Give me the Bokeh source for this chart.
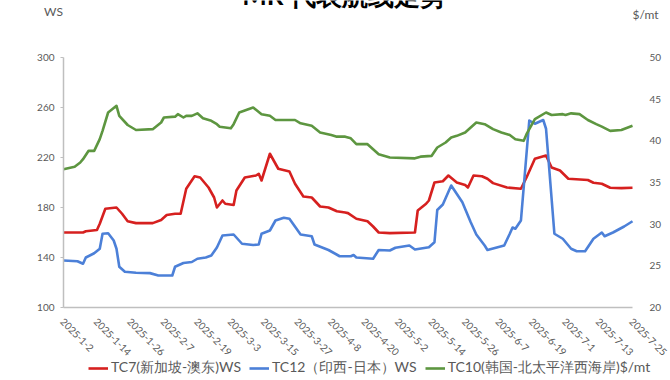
import math
import pandas as pd
from bokeh.plotting import figure
from bokeh.models import Range1d, LinearAxis, FixedTicker, Legend, LegendItem, Label
from bokeh.core.properties import value
from bokeh.embed import file_html
from bokeh.resources import INLINE

# ---------------- data ----------------
tc7_dates = ["2025-01-02", "2025-01-09", "2025-01-10", "2025-01-14", "2025-01-15", "2025-01-17",
             "2025-01-21", "2025-01-23", "2025-01-25", "2025-01-28", "2025-02-03", "2025-02-06",
             "2025-02-08", "2025-02-11", "2025-02-13", "2025-02-15", "2025-02-18", "2025-02-20",
             "2025-02-23", "2025-02-25", "2025-02-26", "2025-02-28", "2025-03-01", "2025-03-04",
             "2025-03-05", "2025-03-08", "2025-03-12", "2025-03-13", "2025-03-14", "2025-03-17",
             "2025-03-20", "2025-03-24", "2025-03-26", "2025-03-29", "2025-04-01", "2025-04-04",
             "2025-04-07", "2025-04-10", "2025-04-13", "2025-04-14", "2025-04-17", "2025-04-21",
             "2025-04-23", "2025-04-25", "2025-04-29", "2025-05-08", "2025-05-09", "2025-05-12",
             "2025-05-13", "2025-05-15", "2025-05-18", "2025-05-20", "2025-05-23", "2025-05-26",
             "2025-05-27", "2025-05-29", "2025-06-01", "2025-06-03", "2025-06-05", "2025-06-10",
             "2025-06-15", "2025-06-17", "2025-06-20", "2025-06-24", "2025-06-26", "2025-06-29",
             "2025-07-02", "2025-07-09", "2025-07-11", "2025-07-14", "2025-07-17", "2025-07-21",
             "2025-07-25"]
tc7_ws = [160, 160, 161, 162, 167, 179,
          180, 175, 169, 167.5, 167.5, 170,
          174, 175, 175, 195, 205, 204,
          196, 188, 180, 185.6, 183, 182,
          193.6, 204, 205.6, 207, 201.6, 223,
          211, 208.8, 199, 188.8, 188, 180.8,
          180, 177, 176, 175.5, 171, 169,
          164.8, 160, 159.5, 160, 177.6, 183,
          185.6, 200, 201, 205.6, 200, 198,
          196, 205.6, 205, 203, 199.5, 196,
          195, 204, 219, 221.6, 212, 209.6,
          203, 202, 199.8, 199, 195.8, 195.5,
          195.8]

tc12_dates = ["2025-01-02", "2025-01-07", "2025-01-09", "2025-01-10", "2025-01-13", "2025-01-15",
              "2025-01-16", "2025-01-18", "2025-01-20", "2025-01-21", "2025-01-22", "2025-01-24",
              "2025-01-28", "2025-02-02", "2025-02-05", "2025-02-10", "2025-02-11", "2025-02-14",
              "2025-02-17", "2025-02-19", "2025-02-22", "2025-02-24", "2025-02-26", "2025-02-28",
              "2025-03-04", "2025-03-07", "2025-03-11", "2025-03-13", "2025-03-14", "2025-03-17",
              "2025-03-19", "2025-03-22", "2025-03-24", "2025-03-28", "2025-04-01", "2025-04-02",
              "2025-04-07", "2025-04-11", "2025-04-15", "2025-04-16", "2025-04-17", "2025-04-23",
              "2025-04-25", "2025-04-29", "2025-05-01", "2025-05-06", "2025-05-08", "2025-05-13",
              "2025-05-15", "2025-05-16", "2025-05-18", "2025-05-21", "2025-05-25", "2025-05-28",
              "2025-05-30", "2025-06-02", "2025-06-03", "2025-06-06", "2025-06-09", "2025-06-11",
              "2025-06-12", "2025-06-13", "2025-06-15", "2025-06-18", "2025-06-20", "2025-06-23",
              "2025-06-24", "2025-06-27", "2025-06-30", "2025-07-03", "2025-07-05", "2025-07-08",
              "2025-07-11", "2025-07-14", "2025-07-15", "2025-07-18", "2025-07-22", "2025-07-25"]
tc12_ws = [137.6, 137, 135, 140, 143.4, 147,
           159, 159.4, 153.6, 147, 132.6, 128.6,
           127.8, 127.5, 125.6, 125.6, 132.6, 135.6,
           136.4, 139, 140, 141.6, 148, 157.6,
           158.4, 151, 150, 150.4, 159, 161.6,
           169.6, 171.8, 171, 158.4, 157, 150.4,
           146, 141, 141, 142, 140, 139,
           146, 145.6, 147.8, 149.6, 146.4, 148.2,
           152.2, 178, 182.4, 197.6, 184.2, 168.2,
           158.4, 149.6, 146, 147.8, 149.6, 159,
           164, 163, 169.6, 249.6, 247, 250,
           243, 159, 155, 147, 145, 145,
           155, 160, 157, 160, 164.8, 169]

tc10_dates = ["2025-01-02", "2025-01-06", "2025-01-08", "2025-01-09", "2025-01-11", "2025-01-13",
              "2025-01-15", "2025-01-16", "2025-01-18", "2025-01-21", "2025-01-22", "2025-01-25",
              "2025-01-28", "2025-02-03", "2025-02-06", "2025-02-07", "2025-02-11", "2025-02-12",
              "2025-02-14", "2025-02-15", "2025-02-17", "2025-02-19", "2025-02-21", "2025-02-24",
              "2025-02-26", "2025-02-27", "2025-03-03", "2025-03-04", "2025-03-06", "2025-03-11",
              "2025-03-14", "2025-03-17", "2025-03-19", "2025-03-26", "2025-03-28", "2025-04-01",
              "2025-04-04", "2025-04-08", "2025-04-10", "2025-04-13", "2025-04-15", "2025-04-17",
              "2025-04-21", "2025-04-23", "2025-04-25", "2025-04-29", "2025-05-08", "2025-05-10",
              "2025-05-14", "2025-05-16", "2025-05-19", "2025-05-21", "2025-05-23", "2025-05-26",
              "2025-05-30", "2025-06-02", "2025-06-05", "2025-06-08", "2025-06-11", "2025-06-13",
              "2025-06-16", "2025-06-17", "2025-06-20", "2025-06-24", "2025-06-26", "2025-06-30",
              "2025-07-01", "2025-07-03", "2025-07-06", "2025-07-09", "2025-07-12", "2025-07-14",
              "2025-07-17", "2025-07-21", "2025-07-25"]
tc10_usd = [36.6, 36.9, 37.4, 37.8, 38.8, 38.8,
            40.2, 41.2, 43.4, 44.2, 43.0, 41.9,
            41.3, 41.4, 42.2, 42.8, 42.9, 43.2,
            42.8, 43.0, 43.0, 43.3, 42.7, 42.4,
            42.0, 41.7, 41.5, 42.0, 43.4, 44.0,
            43.2, 43.0, 42.5, 42.5, 42.1, 41.8,
            41.0, 40.7, 40.5, 40.5, 40.3, 39.6,
            39.6, 39.0, 38.4, 38.0, 37.9, 38.1,
            38.2, 39.2, 39.8, 40.4, 40.6, 41.0,
            42.2, 42.0, 41.4, 41.0, 40.7, 40.2,
            40.0, 40.8, 42.6, 43.4, 43.1, 43.2,
            43.1, 43.3, 43.2, 42.5, 42.0, 41.7,
            41.2, 41.3, 41.8]

x_tick_labels = ["2025-1-2", "2025-1-14", "2025-1-26", "2025-2-7", "2025-2-19", "2025-3-3",
                 "2025-3-15", "2025-3-27", "2025-4-8", "2025-4-20", "2025-5-2", "2025-5-14",
                 "2025-5-26", "2025-6-7", "2025-6-19", "2025-7-1", "2025-7-13", "2025-7-25"]
left_ticks = [100, 140, 180, 220, 260, 300]
right_ticks = [20, 25, 30, 35, 40, 45, 50]

series_names = ["TC7(新加坡-澳东)WS", "TC12（印西-日本）WS", "TC10(韩国-北太平洋西海岸)$/mt"]
title_text = "MR 代表航线走势"
left_unit = "WS"
right_unit = "$/mt"

# ---------------- style / geometry ----------------
RED = "#D6201F"
BLUE = "#4C80D8"
GREEN = "#5D9640"
GRAY_TXT = "#595959"
AXIS_GRAY = "#BFBFBF"
FONT = "Lato"

W, H = 670, 380
PL, PR, PT, PB = 63, 632, 57, 307   # plot-area edges on the canvas (px)

tick_ts = [pd.Timestamp(s) for s in x_tick_labels]
tick_ms = [int(t.value // 10**6) for t in tick_ts]
x_start, x_end = tick_ts[0], tick_ts[-1]
ms_per_px = (x_end - x_start) / (PR - PL)
xr = Range1d(x_start - ms_per_px * PL, x_end + ms_per_px * (W - PR))

l_lo, l_hi = left_ticks[0], left_ticks[-1]
r_lo, r_hi = right_ticks[0], right_ticks[-1]
lpp = (l_hi - l_lo) / (PB - PT)
rpp = (r_hi - r_lo) / (PB - PT)
yr = Range1d(l_lo - lpp * (H - PB), l_hi + lpp * PT)
yr_right = Range1d(r_lo - rpp * (H - PB), r_hi + rpp * PT)

p = figure(width=W, height=H, x_axis_type="datetime", x_range=xr, y_range=yr,
           output_backend="svg", toolbar_location=None,
           min_border_left=0, min_border_right=0, min_border_top=0, min_border_bottom=0)
p.extra_y_ranges = {"right": yr_right}
p.xgrid.visible = False
p.ygrid.visible = False
p.outline_line_color = None
p.background_fill_color = "white"
p.border_fill_color = "white"

start_ms = tick_ms[0]
end_ms = tick_ms[-1]

# bottom axis (line only; its labels are drawn below as rotated texts)
xa = p.xaxis[0]
xa.fixed_location = l_lo
xa.bounds = (start_ms, end_ms)
xa.ticker = FixedTicker(ticks=tick_ms)
xa.axis_line_color = AXIS_GRAY
xa.axis_line_width = 1.5
xa.major_tick_line_color = None
xa.minor_tick_line_color = None
xa.major_label_text_color = None

p.text(x=tick_ts, y=[l_lo] * len(tick_ts), text=x_tick_labels,
       angle=-math.pi / 4, text_align="left", text_baseline="top",
       x_offset=1, y_offset=10,
       text_font=value(FONT), text_font_size="10px", text_color=GRAY_TXT)

# left axis
ya = p.yaxis[0]
ya.fixed_location = start_ms
ya.bounds = (l_lo, l_hi)
ya.ticker = FixedTicker(ticks=left_ticks)
ya.axis_line_color = AXIS_GRAY
ya.axis_line_width = 1.5
ya.major_tick_line_color = AXIS_GRAY
ya.major_tick_out = 3
ya.major_tick_in = 0
ya.minor_tick_line_color = None
ya.major_label_text_color = GRAY_TXT
ya.major_label_text_font = FONT
ya.major_label_text_font_size = "10px"
ya.major_label_standoff = 6

# right axis
ra = LinearAxis(y_range_name="right", ticker=FixedTicker(ticks=right_ticks))
ra.fixed_location = end_ms
ra.bounds = (r_lo, r_hi)
ra.axis_line_color = None
ra.major_tick_line_color = None
ra.minor_tick_line_color = None
ra.major_label_text_color = GRAY_TXT
ra.major_label_text_font = FONT
ra.major_label_text_font_size = "10px"
ra.major_label_standoff = 11
p.add_layout(ra, "right")

d7 = pd.to_datetime(tc7_dates)
d12 = pd.to_datetime(tc12_dates)
d10 = pd.to_datetime(tc10_dates)
r7 = p.line(d7, tc7_ws, line_color=RED, line_width=2.6, line_join="round")
r12 = p.line(d12, tc12_ws, line_color=BLUE, line_width=2.6, line_join="round")
r10 = p.line(d10, tc10_usd, line_color=GREEN, line_width=2.6, line_join="round", y_range_name="right")

legend = Legend(items=[LegendItem(label=series_names[0], renderers=[r7]),
                       LegendItem(label=series_names[1], renderers=[r12]),
                       LegendItem(label=series_names[2], renderers=[r10])],
                orientation="horizontal", location=(88, 3),
                padding=0, margin=0, spacing=8, glyph_width=20, glyph_height=14,
                label_height=14, label_standoff=3, label_text_font=FONT,
                label_text_font_size="14px", label_text_color=GRAY_TXT,
                background_fill_alpha=0, border_line_color=None)
p.add_layout(legend, "center")

mid = x_start + (x_end - x_start) / 2
p.add_layout(Label(x=mid, y=l_hi, text=title_text, x_offset=-4, y_offset=63,
                   text_align="center", text_baseline="alphabetic",
                   text_font=FONT, text_font_size="26px", text_font_style="bold",
                   text_color="#000000"))
p.add_layout(Label(x=x_start, y=l_hi, text=left_unit, x_offset=-10, y_offset=46,
                   text_align="center", text_baseline="middle",
                   text_font=FONT, text_font_size="12px", text_color=GRAY_TXT))
p.add_layout(Label(x=x_end, y=r_hi, y_range_name="right", text=right_unit, x_offset=13, y_offset=43,
                   text_align="center", text_baseline="middle",
                   text_font=FONT, text_font_size="12px", text_color=GRAY_TXT))

open("out.html", "w").write(file_html(p, INLINE))
